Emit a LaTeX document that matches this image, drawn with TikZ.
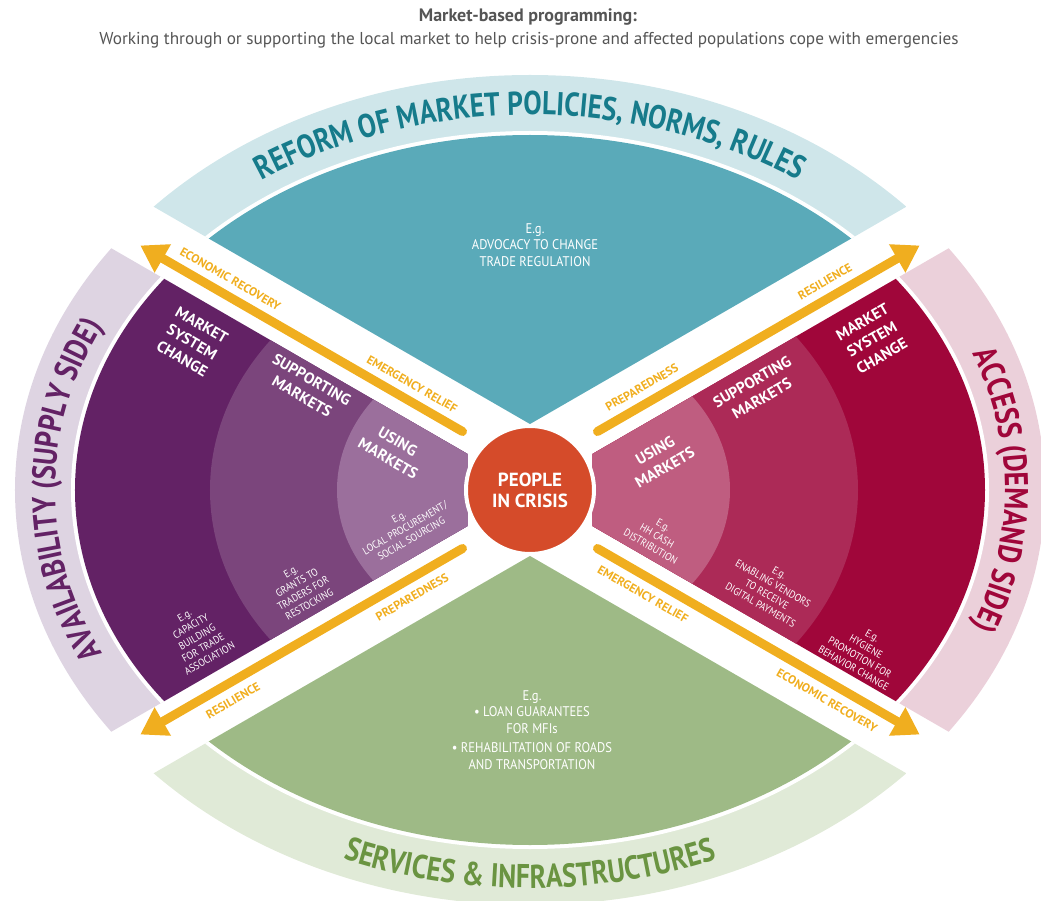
\documentclass[tikz,border=0pt]{standalone}
\usepackage{fontspec}
\setmainfont{PT Sans}
\newfontfamily\notefont[FakeStretch=0.9]{PT Sans}
\newfontfamily\bandfont[FakeStretch=0.83]{PT Sans}
\usetikzlibrary{arrows.meta,decorations.text}

\definecolor{titlec}{HTML}{555555}
\definecolor{arrowc}{HTML}{F0AE1F}
\definecolor{crisisc}{HTML}{D54B2A}
\definecolor{reformc}{HTML}{5AAAB9}
\definecolor{reformband}{HTML}{CFE6EA}
\definecolor{reformtext}{HTML}{167B8B}
\definecolor{supplyA}{HTML}{9B6F9C}
\definecolor{supplyB}{HTML}{7B457C}
\definecolor{supplyC}{HTML}{632265}
\definecolor{supplyband}{HTML}{DED4E2}
\definecolor{demandA}{HTML}{BF5D80}
\definecolor{demandB}{HTML}{AC2A57}
\definecolor{demandC}{HTML}{A0063A}
\definecolor{demandband}{HTML}{EBD0DA}
\definecolor{servc}{HTML}{9EBA86}
\definecolor{servband}{HTML}{E0EAD7}
\definecolor{servtext}{HTML}{6A9441}

\begin{document}
\begin{tikzpicture}[x=1pt, y=1pt,
% the orange arrows and their captions:
flow/.style = {draw=arrowc, line width=9pt, line cap=round,
            -{Triangle[width=31pt,length=26pt]}},
flowlab/.style = {text=arrowc, inner sep=0, font=\bfseries\fontsize{12}{12}\selectfont},
% common options for the texts in the pieces:
ringhead/.style = {text=white, align=center, inner sep=0,
            font=\bfseries\fontsize{15.5}{19.5}\selectfont},
ringnote/.style = {text=white, align=center, inner sep=0,
            font=\notefont\fontsize{10.5}{12.5}\selectfont},
pienote/.style = {text=white, align=center, inner sep=0,
            font=\notefont\fontsize{14}{16.5}\selectfont},
% curved names of the outer bands:
bandtext/.style = {decorate, decoration={text along path, text align=center, text={#1}}}]
\useasboundingbox (-530,-410) rectangle (511,490);

\node[text=titlec, font=\bfseries\fontsize{18}{18}\selectfont] (title) at (-2,473) {Market-based programming:};
\node[text=titlec, font=\fontsize{17.2}{17.2}\selectfont] (subtitle) at (-1,450) {Working through or supporting the local market to help crisis-prone and affected populations cope with emergencies};

% top piece
\begin{scope}
\clip (0,66) -- (606.2,416) -- (606.2,700) -- (-606.2,700) -- (-606.2,416) -- cycle;
\fill[reformband] (0,0) ellipse [x radius=515, y radius=415];
\fill[white] (0,0) ellipse [x radius=459, y radius=359];
\fill[reformc] (0,0) ellipse [x radius=455, y radius=355];
\end{scope}
% bottom piece
\begin{scope}
\clip (0,-66) -- (606.2,-416) -- (606.2,-700) -- (-606.2,-700) -- (-606.2,-416) -- cycle;
\fill[servband] (0,0) ellipse [x radius=515, y radius=415];
\fill[white] (0,0) ellipse [x radius=459, y radius=359];
\fill[servc] (0,0) ellipse [x radius=455, y radius=355];
\end{scope}
% left piece
\begin{scope}
\clip (-62,35.8) -- (-606.2,350) -- (-606.2,-350) -- (-62,-35.8) -- cycle;
\fill[supplyband] (0,0) ellipse [x radius=515, y radius=415];
\fill[white] (0,0) ellipse [x radius=459, y radius=359];
\fill[supplyC] (0,0) ellipse [x radius=455, y radius=355];
\fill[supplyB] (0,0) ellipse [x radius=320, y radius=256];
\fill[supplyA] (0,0) ellipse [x radius=193, y radius=155];
\end{scope}
% right piece
\begin{scope}
\clip (62,35.8) -- (606.2,350) -- (606.2,-350) -- (62,-35.8) -- cycle;
\fill[demandband] (0,0) ellipse [x radius=515, y radius=415];
\fill[white] (0,0) ellipse [x radius=459, y radius=359];
\fill[demandC] (0,0) ellipse [x radius=455, y radius=355];
\fill[demandB] (0,0) ellipse [x radius=328, y radius=262];
\fill[demandA] (0,0) ellipse [x radius=200, y radius=160];
\end{scope}

\node[circle, fill=crisisc, draw=white, line width=4pt, minimum size=128pt,
      text=white, align=center, font=\bfseries\fontsize{19}{21}\selectfont] (crisis) at (0,0) {PEOPLE\\IN CRISIS};

% arrows
\coordinate (ulTail) at (-67.5,58.5);
\coordinate (ulTip) at (-389.7,244.5);
\coordinate (urTail) at (67.5,58.5);
\coordinate (urTip) at (389.7,244.5);
\coordinate (llTail) at (-67.5,-58.5);
\coordinate (llTip) at (-389.7,-244.5);
\coordinate (lrTail) at (67.5,-58.5);
\coordinate (lrTip) at (389.7,-244.5);
\draw[flow] (ulTail) -- (ulTip);
\draw[flow] (urTail) -- (urTip);
\draw[flow] (llTail) -- (llTip);
\draw[flow] (lrTail) -- (lrTip);

\node[flowlab, rotate=-30] (ulOut) at (-299.6,211) {ECONOMIC RECOVERY};
\node[flowlab, rotate=-30] (ulIn) at (-117.8,106) {EMERGENCY RELIEF};
\node[flowlab, rotate=30] (urOut) at (295,208.3) {RESILIENCE};
\node[flowlab, rotate=30] (urIn) at (112,102.7) {PREPAREDNESS};
\node[flowlab, rotate=30] (llIn) at (-117.8,-107) {PREPAREDNESS};
\node[flowlab, rotate=30] (llOut) at (-297,-210.5) {RESILIENCE};
\node[flowlab, rotate=-30] (lrIn) at (113,-104) {EMERGENCY RELIEF};
\node[flowlab, rotate=-30] (lrOut) at (297,-210.5) {ECONOMIC RECOVERY};

% texts in the pieces
\node[pienote] (reformNote) at (5,245) {E.g.\\ADVOCACY TO CHANGE\\TRADE REGULATION};
\node[pienote] (servNote) at (2,-240) {E.g.\\\textbullet\ LOAN GUARANTEES\\FOR MFIs\\[3pt]\textbullet\ REHABILITATION OF ROADS\\AND TRANSPORTATION};

\node[ringhead, rotate=-30] (supC) at (-338,148) {MARKET\\SYSTEM\\CHANGE};
\node[ringhead, rotate=-30] (supB) at (-223,102) {SUPPORTING\\MARKETS};
\node[ringhead, rotate=-30] (supA) at (-137,40) {USING\\MARKETS};
\node[ringnote, rotate=30] (supCNote) at (-333,-147) {E.g.\\CAPACITY\\BUILDING\\FOR TRADE\\ASSOCIATION};
\node[ringnote, rotate=30] (supBNote) at (-230,-98) {E.g.\\GRANTS TO\\TRADERS FOR\\RESTOCKING};
\node[ringnote, rotate=30] (supANote) at (-125,-38) {E.g.\\LOCAL PROCUREMENT/\\SOCIAL SOURCING};

\node[ringhead, rotate=30] (demA) at (130,31) {USING\\MARKETS};
\node[ringhead, rotate=30] (demB) at (227,100) {SUPPORTING\\MARKETS};
\node[ringhead, rotate=30] (demC) at (342,151) {MARKET\\SYSTEM\\CHANGE};
\node[ringnote, rotate=-30] (demANote) at (127,-46) {E.g.\\HH CASH\\DISTRIBUTION};
\node[ringnote, rotate=-30] (demBNote) at (240,-99) {E.g.\\ENABLING VENDORS\\TO RECEIVE\\DIGITAL PAYMENTS};
\node[ringnote, rotate=-30] (demCNote) at (333,-162) {E.g.\\HYGIENE\\PROMOTION FOR\\BEHAVIOR CHANGE};

% band names
\path[bandtext={|\bandfont\bfseries\fontsize{33}{33}\selectfont\color{reformtext}|REFORM OF MARKET POLICIES, NORMS, RULES}]
  (150:475 and 375) arc[start angle=150, end angle=30, x radius=475, y radius=375];
\path[bandtext={|\bandfont\bfseries\fontsize{33}{33}\selectfont\color{supplyC}|AVAILABILITY (SUPPLY SIDE)}]
  (215:475 and 375) arc[start angle=215, end angle=145, x radius=475, y radius=375];
\path[bandtext={|\bandfont\bfseries\fontsize{33}{33}\selectfont\color{demandC}|ACCESS (DEMAND SIDE)}]
  (35:475 and 375) arc[start angle=35, end angle=-35, x radius=475, y radius=375];
\path[bandtext={|\bandfont\bfseries\fontsize{33}{33}\selectfont\color{servtext}|SERVICES {\&} INFRASTRUCTURES}]
  (210:498 and 398) arc[start angle=210, end angle=330, x radius=498, y radius=398];
\end{tikzpicture}
\end{document}
